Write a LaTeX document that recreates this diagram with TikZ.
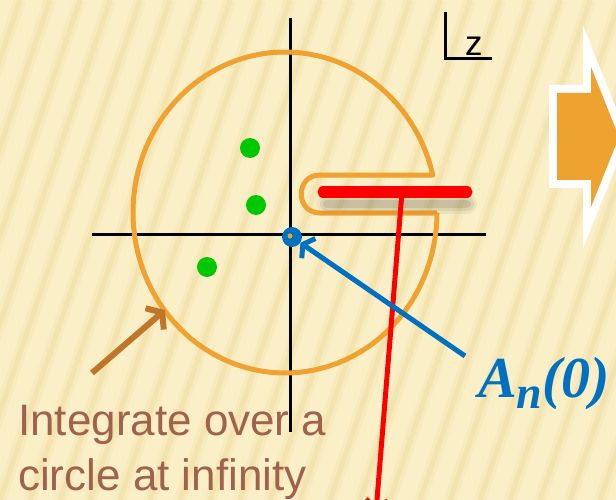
\documentclass[tikz,border=0pt]{standalone}
\usepackage{fontspec}
\setmainfont{Liberation Serif}
\setsansfont{Liberation Sans}
\usetikzlibrary{arrows.meta, positioning, calc}

\definecolor{paper}{RGB}{251,239,199}
\definecolor{stripe}{RGB}{236,214,150}
\definecolor{ring}{RGB}{240,162,48}
\definecolor{pole}{RGB}{0,200,0}
\definecolor{anblue}{RGB}{0,112,192}
\definecolor{pointer}{RGB}{192,118,40}
\definecolor{note}{RGB}{160,98,76}

\begin{document}
\begin{tikzpicture}[
    x=1pt, y=-1pt,
    axis/.style={line width=3pt, black},
    contour/.style={line width=5pt, ring, line join=round},
    polept/.style={circle, fill=pole, minimum size=20pt, inner sep=0pt},
    cut/.style={line width=11pt, red, line cap=round},
    redarr/.style={-{Straight Barb[length=9pt, width=22pt]}, line width=5pt, red},
    bluearr/.style={-{Straight Barb[length=7pt, width=24pt]}, line width=5pt, anblue},
    brownarr/.style={-{Straight Barb[length=10pt, width=28pt]}, line width=6pt, pointer},
    notetext/.style={font=\sffamily\fontsize{44}{55}\selectfont, text=note,
                     align=left, inner sep=0pt}
  ]

  \useasboundingbox (0,0) rectangle (616,500);
  \clip (0,0) rectangle (616,500);

  % paper with stripes
  \fill[paper] (0,0) rectangle (616,500);
  \foreach \i in {-8,...,22}{
    \draw[line width=12pt, stripe, opacity=0.2] (\i*30,500) -- ++(170,-500);
    \draw[line width=5pt, stripe, opacity=0.35] (\i*30,500) -- ++(170,-500);
  }

  % axes
  \draw[axis] (92,234) -- (486,234);
  \draw[axis] (290,18) -- (290,432);
  \draw[line width=3pt] (445,12) -- (445,59) -- (492,59);
  \node[font=\sffamily\fontsize{35}{35}\selectfont, anchor=base west, inner sep=0pt]
    (zlabel) at (465,56) {z};

  % poles
  \node[polept] (p1) at (250,148) {};
  \node[polept] (p2) at (256,205) {};
  \node[polept] (p3) at (207,267) {};

  % contour with keyhole round the cut
  \draw[contour] plot[domain=0:346.5, samples=120]
      ({285+152*cos(\x)}, {212.5+160.5*sin(\x)})
    -- (320,175) .. controls (295,175) and (295,213) .. (320,213) -- (437,213);

  % branch cut and its shadow
  \coordinate (cutL) at (323,192);
  \coordinate (cutR) at (467,192);
  \coordinate (cutfoot) at (402,192);
  \foreach \w/\o in {20/0.05, 14/0.07, 8/0.09}
    \draw[line width=\w pt, black, opacity=\o, line cap=round]
      ($(cutL)+(4,12)$) -- ($(cutR)+(0,12)$);
  \draw[cut] (cutL) -- (cutR);
  \coordinate (redend) at (376,512);
  \draw[redarr] (cutfoot) -- (redend);

  % origin value
  \node[circle, fill=anblue, minimum size=20pt, inner sep=0pt] (origin) at (292,237) {};
  \fill[ring] (290,236) circle[radius=2.5];
  \node[font=\bfseries\itshape\fontsize{58}{60}\selectfont, text=anblue,
        anchor=base west, inner sep=0pt] (an) at (478,397)
    {A\raisebox{-0.2em}{\fontsize{46}{46}\selectfont n}(0)};
  \coordinate (anstart) at (465,356);
  \draw[bluearr] (anstart) -- (origin);

  % note
  \node[notetext, anchor=base west] (integrate) at (18,490)
    {Integrate over a\\circle at infinity};
  \coordinate (ptail) at (92,373);
  \coordinate (phead) at (165,310);
  \draw[brownarr] (ptail) -- (phead);

  % next-slide arrow
  \fill[ring, preaction={draw=white, line width=16pt, line join=miter}]
    (557,93) -- (591,93) -- (591,67) -- (619,137) -- (591,207)
    -- (591,180) -- (557,180) -- cycle;

\end{tikzpicture}
\end{document}
